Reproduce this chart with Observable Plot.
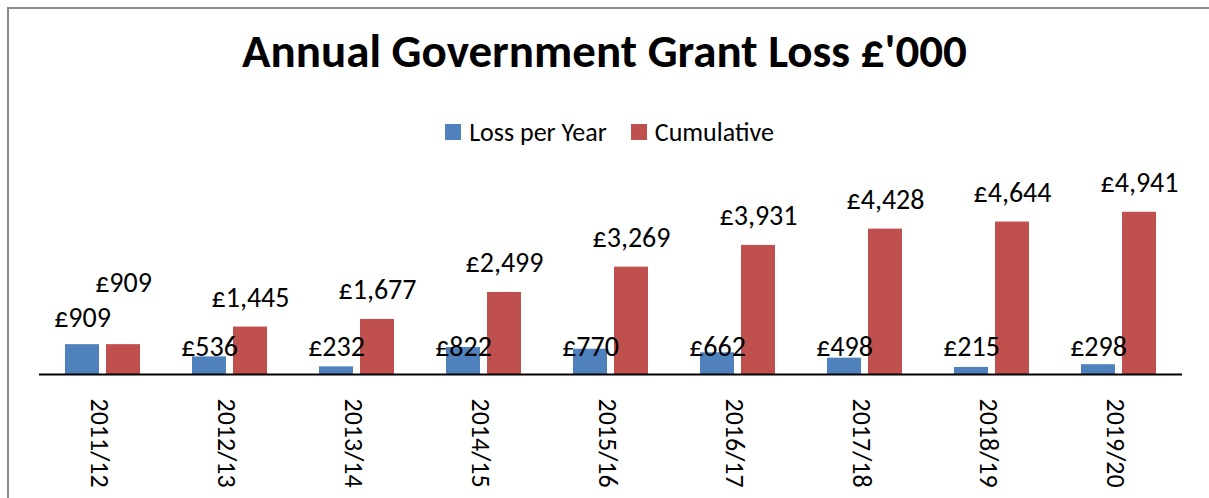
<!DOCTYPE html>
<html>
<head>
<meta charset="utf-8">
<script src="https://cdn.jsdelivr.net/npm/d3@7"></script>
<script src="https://cdn.jsdelivr.net/npm/@observablehq/plot@0.6"></script>
<style>
  html, body { margin: 0; padding: 0; background: #fff; }
  body { width: 1209px; height: 498px; overflow: hidden; position: relative; font-family: Carlito, Lato, "Open Sans", sans-serif; }
  #frame { position: absolute; left: 7px; top: 7px; width: 1300px; height: 600px; border-left: 2px solid #8c8c8c; border-top: 2px solid #8c8c8c; }
  #title { position: absolute; left: 0; top: 26px; width: 1209px; text-align: center; font-weight: bold; font-size: 47px; line-height: 50px; color: #000; }
  #legend { position: absolute; left: 0; top: 118px; width: 1209px; display: flex; justify-content: center; align-items: center; font-size: 26px; line-height: 28px; color: #000; padding-left: 10px; box-sizing: border-box; }
  .item { display: flex; align-items: center; margin: 0 12px; }
  .sw { width: 16px; height: 16px; margin-right: 8px; display: inline-block; }
  #chart { position: absolute; left: 0; top: 150px; }
</style>
</head>
<body>
<div id="frame"></div>
<div id="title">Annual Government Grant Loss £'000</div>
<div id="legend"></div>
<div id="chart"></div>
<script>
const years = ["2011/12","2012/13","2013/14","2014/15","2015/16","2016/17","2017/18","2018/19","2019/20"];
const seriesNames = ["Loss per Year", "Cumulative"];
const lossPerYear = [909, 536, 232, 822, 770, 662, 498, 215, 298];
const cumulative = [909, 1445, 1677, 2499, 3269, 3931, 4428, 4644, 4941];
const colors = ["#4F81BD", "#C0504D"];

const data = [];
years.forEach((y, i) => {
  data.push({year: y, series: seriesNames[0], value: lossPerYear[i], idx: i});
  data.push({year: y, series: seriesNames[1], value: cumulative[i], idx: i});
});

const fmt = v => "£" + d3.format(",")(v);

// legend
const leg = document.getElementById("legend");
seriesNames.forEach((s, i) => {
  const it = document.createElement("div");
  it.className = "item";
  it.innerHTML = `<span class="sw" style="background:${colors[i]}"></span><span>${s}</span>`;
  leg.appendChild(it);
});

const font = "Carlito, Lato, 'Open Sans', sans-serif";
const blue = data.filter(d => d.series === seriesNames[0]);
const red = data.filter(d => d.series === seriesNames[1]);
const LBL = 28;

const chart = Plot.plot({
  width: 1209,
  height: 348,
  marginTop: 27,
  marginBottom: 124,
  marginLeft: 36,
  marginRight: 25,
  style: {fontFamily: font, color: "#000", background: "transparent", overflow: "visible"},
  fx: {domain: years, padding: 0, label: null},
  x: {domain: seriesNames, paddingInner: 7/42, paddingOuter: 0.601, axis: null},
  y: {domain: [0, 6000], axis: null},
  color: {domain: seriesNames, range: colors},
  marks: [
    Plot.barY(data, {fx: "year", x: "series", y: "value", fill: "series"}),
    Plot.ruleY([0], {stroke: "#000", strokeWidth: 2}),
    Plot.axisFx({anchor: "bottom", tickRotate: 90, tickSize: 0, tickPadding: 24, fontSize: 26, dx: -4, label: null, fontFamily: font}),
    // blue labels
    Plot.text(blue.filter(d => d.idx === 0), {fx: "year", x: "series", y: "value", text: d => fmt(d.value), dy: -27, fontSize: LBL, fill: "#000"}),
    Plot.text(blue.filter(d => d.idx !== 0), {fx: "year", x: "series", y: 0, text: d => fmt(d.value), dy: -27, fontSize: LBL, fill: "#000"}),
    // red labels
    Plot.text(red.filter(d => d.idx === 0), {fx: "year", x: "series", y: "value", text: d => fmt(d.value), dy: -62, fontSize: LBL, fill: "#000"}),
    Plot.text(red.filter(d => d.idx !== 0), {fx: "year", x: "series", y: "value", text: d => fmt(d.value), dy: -29, fontSize: LBL, fill: "#000"})
  ]
});
document.getElementById("chart").appendChild(chart);
</script>
</body>
</html>
